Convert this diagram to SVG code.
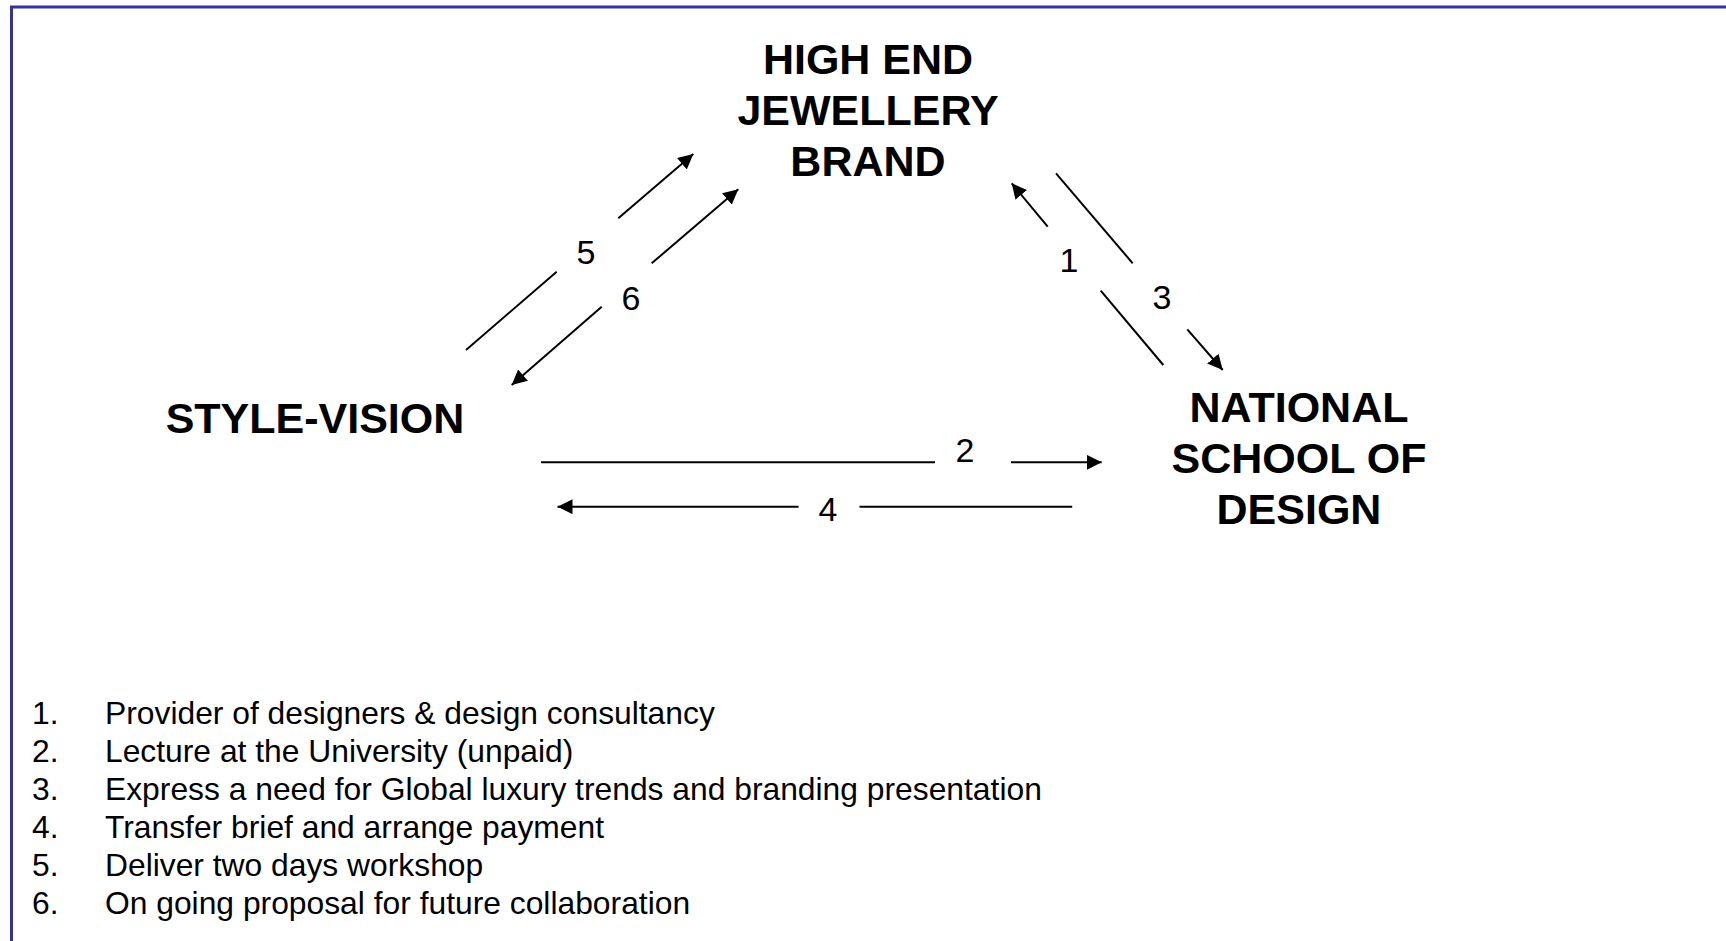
<svg xmlns="http://www.w3.org/2000/svg" width="1726" height="941" viewBox="0 0 1726 941">
<style>
.node{font-family:"Liberation Sans",Arial,sans-serif;font-weight:bold;font-size:43px;fill:#000;text-anchor:middle}
.lbl{font-family:"Liberation Sans",Arial,sans-serif;font-size:34px;fill:#000;text-anchor:middle}
.list{font-family:"Liberation Sans",Arial,sans-serif;font-size:31.8px;fill:#000}
.c{stroke:#000;stroke-width:2;fill:none}
</style>
<defs>
<marker id="ah" markerUnits="userSpaceOnUse" markerWidth="16" markerHeight="15" refX="15" refY="7.5" orient="auto">
<path d="M0,0 L15,7.5 L0,15 z" fill="#000"/>
</marker>
</defs>
<rect x="0" y="0" width="1726" height="941" fill="#fff"/>
<rect x="11.5" y="7" width="1800" height="1000" fill="none" stroke="#333399" stroke-width="3"/>

<g id="node-brand">
<text class="node" x="868" y="74">HIGH END</text>
<text class="node" x="868" y="125">JEWELLERY</text>
<text class="node" x="868" y="176">BRAND</text>
</g>
<g id="node-stylevision">
<text class="node" x="315" y="433">STYLE-VISION</text>
</g>
<g id="node-school">
<text class="node" x="1299" y="422">NATIONAL</text>
<text class="node" x="1299" y="473">SCHOOL OF</text>
<text class="node" x="1299" y="524">DESIGN</text>
</g>

<g id="connectors">
<!-- 5 -->
<line class="c" x1="466" y1="350" x2="556.7" y2="271.7"/>
<line class="c" x1="618.3" y1="218.3" x2="693.3" y2="154" marker-end="url(#ah)"/>
<text class="lbl" x="586" y="264">5</text>
<!-- 6 -->
<line class="c" x1="651.7" y1="263.3" x2="738.3" y2="189.3" marker-end="url(#ah)"/>
<line class="c" x1="601.7" y1="306.7" x2="511.7" y2="385" marker-end="url(#ah)"/>
<text class="lbl" x="631" y="310">6</text>
<!-- 1 -->
<line class="c" x1="1163.3" y1="365" x2="1100.7" y2="290.7"/>
<line class="c" x1="1047.7" y1="226.7" x2="1011.7" y2="183.3" marker-end="url(#ah)"/>
<text class="lbl" x="1069" y="272">1</text>
<!-- 3 -->
<line class="c" x1="1056" y1="173.3" x2="1132.7" y2="263.3"/>
<line class="c" x1="1187.3" y1="329.3" x2="1222.7" y2="370" marker-end="url(#ah)"/>
<text class="lbl" x="1162" y="309">3</text>
<!-- 2 -->
<line class="c" x1="541" y1="462.3" x2="935" y2="462.3"/>
<line class="c" x1="1011" y1="462.3" x2="1101.7" y2="462.3" marker-end="url(#ah)"/>
<text class="lbl" x="965" y="462">2</text>
<!-- 4 -->
<line class="c" x1="798.6" y1="506.7" x2="557.5" y2="506.7" marker-end="url(#ah)"/>
<line class="c" x1="859.5" y1="506.7" x2="1072.2" y2="506.7"/>
<text class="lbl" x="828" y="521">4</text>
</g>

<g id="legend">
<text class="list" x="32" y="723.5">1.</text>
<text class="list" x="105" y="723.5">Provider of designers &amp; design consultancy</text>
<text class="list" x="32" y="761.5">2.</text>
<text class="list" x="105" y="761.5">Lecture at the University (unpaid)</text>
<text class="list" x="32" y="799.5">3.</text>
<text class="list" x="105" y="799.5">Express a need for Global luxury trends and branding presentation</text>
<text class="list" x="32" y="837.5">4.</text>
<text class="list" x="105" y="837.5">Transfer brief and arrange payment</text>
<text class="list" x="32" y="875.5">5.</text>
<text class="list" x="105" y="875.5">Deliver two days workshop</text>
<text class="list" x="32" y="913.5">6.</text>
<text class="list" x="105" y="913.5">On going proposal for future collaboration</text>
</g>
</svg>
